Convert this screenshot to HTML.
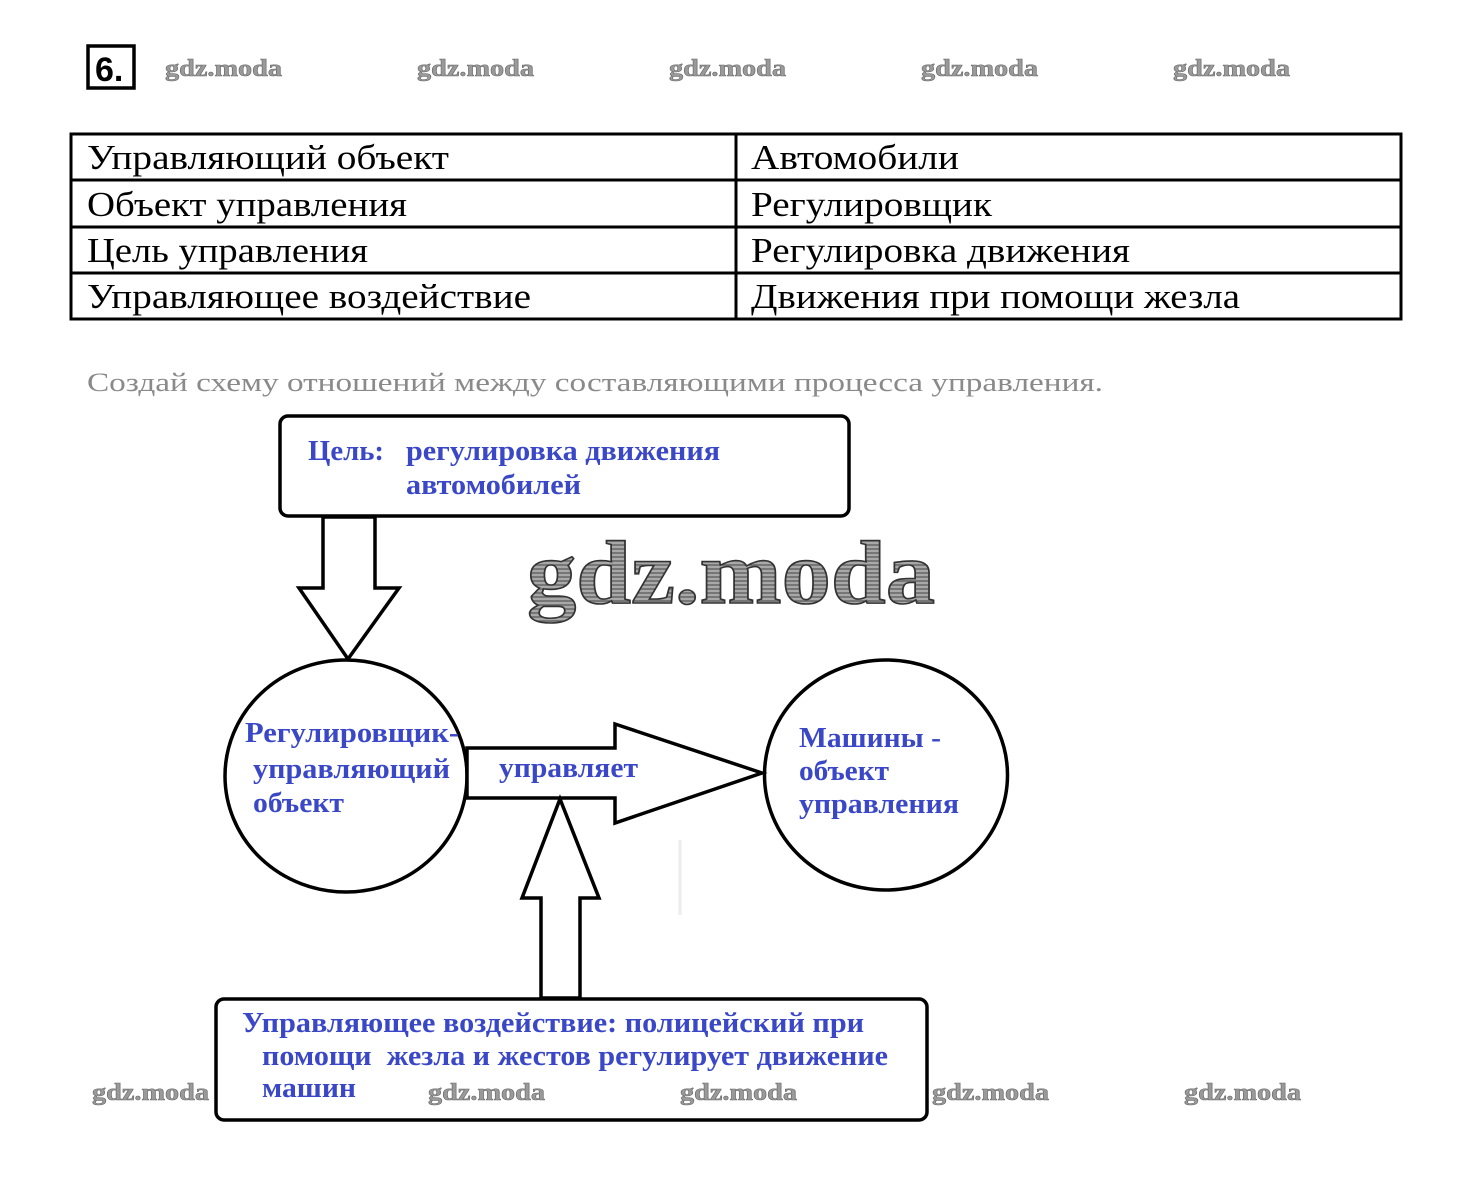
<!DOCTYPE html>
<html>
<head>
<meta charset="utf-8">
<style>
html,body{margin:0;padding:0;background:#fff;}
svg{display:block;}
.tbl{font-family:"Liberation Serif","DejaVu Serif",serif;font-size:35px;fill:#000;}
.ins{font-family:"Liberation Serif","DejaVu Serif",serif;font-size:26px;fill:#8a8a8a;}
.bl{font-family:"Liberation Serif","DejaVu Serif",serif;font-size:28px;font-weight:bold;fill:#3a48c8;}
.wm{font-family:"Liberation Serif","DejaVu Serif",serif;font-size:24px;font-weight:bold;fill:#9a9a9a;stroke:#6a6a6a;stroke-width:0.6;}
.big{font-family:"Liberation Serif","DejaVu Serif",serif;font-size:90px;font-weight:bold;stroke:#333;stroke-width:1.6;}
</style>
</head>
<body>
<svg width="1460" height="1199" viewBox="0 0 1460 1199" xmlns="http://www.w3.org/2000/svg">
<defs>
<pattern id="hatch" width="4" height="4" patternUnits="userSpaceOnUse">
<rect width="4" height="4" fill="#a8a8a8"/>
<line x1="0" y1="1" x2="4" y2="1" stroke="#555" stroke-width="1.2"/>
</pattern>
</defs>

<!-- 6. box -->
<rect x="88" y="46" width="46" height="42" fill="none" stroke="#000" stroke-width="3.5"/>
<text x="95" y="81" font-family="Liberation Sans, sans-serif" font-weight="bold" font-size="34" fill="#000">6.</text>

<!-- top watermarks -->
<text class="wm" x="165" y="76" textLength="117" lengthAdjust="spacingAndGlyphs">gdz.moda</text>
<text class="wm" x="417" y="76" textLength="117" lengthAdjust="spacingAndGlyphs">gdz.moda</text>
<text class="wm" x="669" y="76" textLength="117" lengthAdjust="spacingAndGlyphs">gdz.moda</text>
<text class="wm" x="921" y="76" textLength="117" lengthAdjust="spacingAndGlyphs">gdz.moda</text>
<text class="wm" x="1173" y="76" textLength="117" lengthAdjust="spacingAndGlyphs">gdz.moda</text>

<!-- table -->
<rect x="71" y="134" width="1330" height="185" fill="none" stroke="#000" stroke-width="3"/>
<line x1="71" y1="180" x2="1401" y2="180" stroke="#000" stroke-width="3"/>
<line x1="71" y1="227" x2="1401" y2="227" stroke="#000" stroke-width="3"/>
<line x1="71" y1="273" x2="1401" y2="273" stroke="#000" stroke-width="3"/>
<line x1="736" y1="134" x2="736" y2="319" stroke="#000" stroke-width="3"/>

<text class="tbl" x="87" y="169" textLength="362" lengthAdjust="spacingAndGlyphs">Управляющий объект</text>
<text class="tbl" x="87" y="216" textLength="320" lengthAdjust="spacingAndGlyphs">Объект управления</text>
<text class="tbl" x="87" y="262" textLength="281" lengthAdjust="spacingAndGlyphs">Цель управления</text>
<text class="tbl" x="87" y="308" textLength="444" lengthAdjust="spacingAndGlyphs">Управляющее воздействие</text>
<text class="tbl" x="751" y="169" textLength="208" lengthAdjust="spacingAndGlyphs">Автомобили</text>
<text class="tbl" x="751" y="216" textLength="241" lengthAdjust="spacingAndGlyphs">Регулировщик</text>
<text class="tbl" x="751" y="262" textLength="379" lengthAdjust="spacingAndGlyphs">Регулировка движения</text>
<text class="tbl" x="751" y="308" textLength="489" lengthAdjust="spacingAndGlyphs">Движения при помощи жезла</text>

<!-- instruction -->
<text class="ins" x="87" y="391" textLength="1016" lengthAdjust="spacingAndGlyphs">Создай схему отношений между составляющими процесса управления.</text>

<!-- top goal box -->
<rect x="280" y="416" width="569" height="100" rx="8" ry="8" fill="#fff" stroke="#000" stroke-width="3.5"/>
<text class="bl" x="308" y="460" textLength="76" lengthAdjust="spacingAndGlyphs">Цель:</text>
<text class="bl" x="406" y="460" textLength="314" lengthAdjust="spacingAndGlyphs">регулировка движения</text>
<text class="bl" x="406" y="494" textLength="175" lengthAdjust="spacingAndGlyphs">автомобилей</text>

<!-- big watermark -->
<text class="big" x="527" y="603" textLength="408" lengthAdjust="spacingAndGlyphs" style="fill:url(#hatch)">gdz.moda</text>

<!-- down arrow -->
<polygon points="323,517 375,517 375,588 399,588 348,659 299,588 323,588" fill="#fff" stroke="#000" stroke-width="3.5" stroke-linejoin="miter"/>

<!-- left ellipse -->
<ellipse cx="346" cy="776" rx="121" ry="116" fill="#fff" stroke="#000" stroke-width="3.5"/>
<!-- right ellipse -->
<ellipse cx="886" cy="775" rx="121.5" ry="115" fill="#fff" stroke="#000" stroke-width="3.5"/>

<!-- right arrow -->
<polygon points="467,748 615,748 615,724 762,773 615,823 615,798 467,798" fill="#fff" stroke="#000" stroke-width="3.5" stroke-linejoin="miter"/>

<!-- up arrow -->
<polygon points="541,998 541,898 522,898 560,799 599,898 580,898 580,998" fill="#fff" stroke="#000" stroke-width="3.5" stroke-linejoin="miter"/>

<!-- faint line -->
<line x1="680" y1="840" x2="680" y2="915" stroke="#ececec" stroke-width="3"/>

<!-- circle texts -->
<text class="bl" x="245" y="742" textLength="214" lengthAdjust="spacingAndGlyphs">Регулировщик-</text>
<text class="bl" x="253" y="778" textLength="197" lengthAdjust="spacingAndGlyphs">управляющий</text>
<text class="bl" x="253" y="812" textLength="91" lengthAdjust="spacingAndGlyphs">объект</text>
<text class="bl" x="499" y="777" textLength="139" lengthAdjust="spacingAndGlyphs">управляет</text>
<text class="bl" x="799" y="747" textLength="142" lengthAdjust="spacingAndGlyphs">Машины -</text>
<text class="bl" x="799" y="780" textLength="90" lengthAdjust="spacingAndGlyphs">объект</text>
<text class="bl" x="799" y="813" textLength="160" lengthAdjust="spacingAndGlyphs">управления</text>

<!-- bottom box -->
<rect x="216" y="999" width="711" height="121" rx="8" ry="8" fill="#fff" stroke="#000" stroke-width="3.5"/>
<text class="bl" x="242" y="1032" textLength="622" lengthAdjust="spacingAndGlyphs">Управляющее воздействие: полицейский при</text>
<text class="bl" x="262" y="1065" textLength="626" lengthAdjust="spacingAndGlyphs" xml:space="preserve">помощи  жезла и жестов регулирует движение</text>
<text class="bl" x="262" y="1097" textLength="94" lengthAdjust="spacingAndGlyphs">машин</text>

<!-- bottom watermarks -->
<text class="wm" x="92" y="1100" textLength="117" lengthAdjust="spacingAndGlyphs">gdz.moda</text>
<text class="wm" x="428" y="1100" textLength="117" lengthAdjust="spacingAndGlyphs">gdz.moda</text>
<text class="wm" x="680" y="1100" textLength="117" lengthAdjust="spacingAndGlyphs">gdz.moda</text>
<text class="wm" x="932" y="1100" textLength="117" lengthAdjust="spacingAndGlyphs">gdz.moda</text>
<text class="wm" x="1184" y="1100" textLength="117" lengthAdjust="spacingAndGlyphs">gdz.moda</text>
</svg>
</body>
</html>
